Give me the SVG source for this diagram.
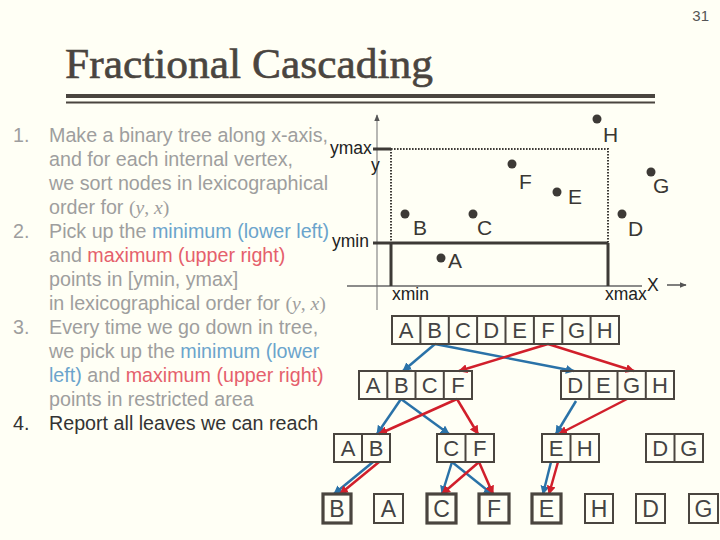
<svg xmlns="http://www.w3.org/2000/svg" width="720" height="540" viewBox="0 0 720 540">
<style>
.t{font-family:"Liberation Sans",Arial,sans-serif;font-size:19.7px;fill:#9e9e9e}
.b{fill:#6ba4cc}
.r{fill:#e5606c}
.m{font-family:"Liberation Serif","Times New Roman",serif;font-style:italic}
.p{font-family:"Liberation Serif","Times New Roman",serif;font-style:normal}
.ax{font-family:"Liberation Sans",Arial,sans-serif;font-size:17.5px;fill:#222}
.pl{font-family:"Liberation Sans",Arial,sans-serif;font-size:21px;fill:#3a3733}
.dot{fill:#3d3a36}
.box{fill:none;stroke:#4a453f;stroke-width:2}
.thick{fill:none;stroke:#4a453f;stroke-width:3.2}
.bl{font-family:"Liberation Sans",Arial,sans-serif;font-size:22px;fill:#444;text-anchor:middle}
.lf{font-size:23px}
.ab{stroke:#2a72a8;stroke-width:2.5;fill:none;marker-end:url(#mb)}
.ar{stroke:#d11f2b;stroke-width:2.5;fill:none;marker-end:url(#mr)}
</style>
<defs>
<marker id="mb" markerUnits="userSpaceOnUse" viewBox="0 0 10 10" refX="9" refY="5" markerWidth="9" markerHeight="9" orient="auto"><path d="M0,0L10,5L0,10z" fill="#2a72a8"/></marker>
<marker id="mr" markerUnits="userSpaceOnUse" viewBox="0 0 10 10" refX="9" refY="5" markerWidth="9" markerHeight="9" orient="auto"><path d="M0,0L10,5L0,10z" fill="#d11f2b"/></marker>
<marker id="mg" markerUnits="userSpaceOnUse" viewBox="0 0 10 10" refX="9" refY="5" markerWidth="7" markerHeight="7" orient="auto"><path d="M0,1L10,5L0,9z" fill="#555"/></marker>
</defs>
<rect width="720" height="540" fill="#fffff5"/>
<text x="709" y="21" font-family="Liberation Sans,Arial,sans-serif" font-size="15" fill="#555" text-anchor="end">31</text>
<text x="65" y="78" font-family="Liberation Serif,Times New Roman,serif" font-size="42" fill="#4a453f" stroke="#4a453f" stroke-width="0.6" textLength="368" lengthAdjust="spacingAndGlyphs">Fractional Cascading</text>
<rect x="66" y="94" width="589" height="4" fill="#4a453f"/>
<rect x="66" y="101.5" width="589" height="2" fill="#4a453f"/>

<g id="text-list" class="t">
<text x="13" y="142">1.</text><text x="49" y="142">Make a binary tree along x-axis,</text>
<text x="49" y="166">and for each internal vertex,</text>
<text x="49" y="190">we sort nodes in lexicographical</text>
<text x="49" y="214">order for <tspan class="p">(</tspan><tspan class="m">y</tspan><tspan class="p">, </tspan><tspan class="m">x</tspan><tspan class="p">)</tspan></text>
<text x="13" y="238">2.</text><text x="49" y="238">Pick up the <tspan class="b">minimum (lower left)</tspan></text>
<text x="49" y="262">and <tspan class="r">maximum (upper right)</tspan></text>
<text x="49" y="286">points in [ymin, ymax]</text>
<text x="49" y="310">in lexicographical order for <tspan class="p">(</tspan><tspan class="m">y</tspan><tspan class="p">, </tspan><tspan class="m">x</tspan><tspan class="p">)</tspan></text>
<text x="13" y="334">3.</text><text x="49" y="334">Every time we go down in tree,</text>
<text x="49" y="358">we pick up the <tspan class="b">minimum (lower</tspan></text>
<text x="49" y="382"><tspan class="b">left)</tspan> and <tspan class="r">maximum (upper right)</tspan></text>
<text x="49" y="406">points in restricted area</text>
<text x="13" y="430" fill="#333">4.</text><text x="49" y="430" fill="#333">Report all leaves we can reach</text>
</g>

<g id="plot">
<line x1="377" y1="310" x2="377" y2="115" stroke="#888" stroke-width="1.2" marker-end="url(#mg)"/>
<line x1="347" y1="286" x2="642" y2="286" stroke="#666" stroke-width="1.5"/>
<line x1="667" y1="285" x2="686" y2="285" stroke="#555" stroke-width="1.5" marker-end="url(#mg)"/>
<line x1="373" y1="149" x2="391" y2="149" stroke="#3d3a36" stroke-width="3"/>
<path d="M391,149H608V243M391,149V243" fill="none" stroke="#3d3a36" stroke-width="2" stroke-dasharray="1.6,1.4"/>
<path d="M373,243H608M391,243V286M608,243V286" fill="none" stroke="#3d3a36" stroke-width="3"/>
<text class="ax" x="330" y="154">ymax</text>
<text class="ax" x="371" y="171" font-size="22">y</text>
<text class="ax" x="332" y="247">ymin</text>
<text class="ax" x="392" y="300">xmin</text>
<text class="ax" x="605" y="300">xmax</text>
<text class="ax" x="647" y="291" font-size="19">X</text>
</g>

<g id="points">
<circle class="dot" cx="597" cy="119" r="4.5"/><text class="pl" x="603" y="142">H</text>
<circle class="dot" cx="512" cy="164" r="4.5"/><text class="pl" x="519" y="189">F</text>
<circle class="dot" cx="557" cy="192" r="4.5"/><text class="pl" x="568" y="204">E</text>
<circle class="dot" cx="651" cy="172" r="4.5"/><text class="pl" x="653" y="193">G</text>
<circle class="dot" cx="405" cy="214" r="4.5"/><text class="pl" x="413" y="235">B</text>
<circle class="dot" cx="473" cy="214" r="4.5"/><text class="pl" x="477" y="235">C</text>
<circle class="dot" cx="622" cy="214" r="4.5"/><text class="pl" x="628" y="236">D</text>
<circle class="dot" cx="441" cy="258" r="4.5"/><text class="pl" x="448" y="268">A</text>
</g>

<g id="connectors">
<line class="ab" x1="435" y1="344" x2="403" y2="371"/>
<line class="ab" x1="435" y1="344" x2="574" y2="371"/>
<line class="ar" x1="548" y1="344" x2="459" y2="371"/>
<line class="ar" x1="548" y1="344" x2="634" y2="371"/>
<line class="ab" x1="401" y1="399" x2="377" y2="434"/>
<line class="ab" x1="401" y1="399" x2="449" y2="434"/>
<line class="ar" x1="457" y1="399" x2="379" y2="434"/>
<line class="ar" x1="457" y1="399" x2="478" y2="434"/>
<line class="ab" x1="576" y1="401" x2="556" y2="434"/>
<line class="ar" x1="627" y1="399" x2="559" y2="434"/>
<line class="ab" x1="373" y1="462" x2="334" y2="494"/>
<line class="ar" x1="379" y1="462" x2="340" y2="494"/>
<line class="ab" x1="452" y1="462" x2="442" y2="494"/>
<line class="ab" x1="452" y1="462" x2="492" y2="494"/>
<line class="ar" x1="479" y1="462" x2="442" y2="494"/>
<line class="ar" x1="479" y1="462" x2="493" y2="494"/>
<line class="ab" x1="551" y1="462" x2="543" y2="494"/>
<line class="ar" x1="558" y1="462" x2="549" y2="494"/>
</g>

<g id="root">
<rect class="box" x="392" y="316" width="227" height="28"/>
<path class="box" d="M420.4,316V344M448.8,316V344M477.1,316V344M505.5,316V344M533.9,316V344M562.3,316V344M590.6,316V344"/>
<text class="bl" y="338"><tspan x="406.2">A</tspan><tspan x="434.6">B</tspan><tspan x="463">C</tspan><tspan x="491.3">D</tspan><tspan x="519.7">E</tspan><tspan x="548.1">F</tspan><tspan x="576.5">G</tspan><tspan x="604.8">H</tspan></text>
</g>
<g id="n-ABCF">
<rect class="box" x="359" y="371" width="113" height="28"/>
<path class="box" d="M387.3,371V399M415.5,371V399M443.8,371V399"/>
<text class="bl" y="393"><tspan x="373.1">A</tspan><tspan x="401.4">B</tspan><tspan x="429.6">C</tspan><tspan x="457.9">F</tspan></text>
</g>
<g id="n-DEGH">
<rect class="box" x="561" y="371" width="113" height="28"/>
<path class="box" d="M589.3,371V399M617.5,371V399M645.8,371V399"/>
<text class="bl" y="393"><tspan x="575.1">D</tspan><tspan x="603.4">E</tspan><tspan x="631.6">G</tspan><tspan x="659.9">H</tspan></text>
</g>
<g id="n-AB">
<rect class="box" x="334" y="434" width="56" height="28"/>
<path class="box" d="M362,434V462"/>
<text class="bl" y="456"><tspan x="348">A</tspan><tspan x="376">B</tspan></text>
</g>
<g id="n-CF">
<rect class="box" x="437" y="434" width="57" height="28"/>
<path class="box" d="M465.5,434V462"/>
<text class="bl" y="456"><tspan x="451.2">C</tspan><tspan x="479.8">F</tspan></text>
</g>
<g id="n-EH">
<rect class="box" x="542" y="434" width="57" height="28"/>
<path class="box" d="M570.5,434V462"/>
<text class="bl" y="456"><tspan x="556.2">E</tspan><tspan x="584.8">H</tspan></text>
</g>
<g id="n-DG">
<rect class="box" x="646" y="434" width="57" height="28"/>
<path class="box" d="M674.5,434V462"/>
<text class="bl" y="456"><tspan x="660.2">D</tspan><tspan x="688.8">G</tspan></text>
</g>
<g id="leaf-B"><rect class="thick" x="323" y="494" width="28" height="29"/><text class="bl lf" x="337" y="517">B</text></g>
<g id="leaf-A"><rect class="box" x="374" y="494" width="29" height="29"/><text class="bl lf" x="388.5" y="517">A</text></g>
<g id="leaf-C"><rect class="thick" x="427" y="494" width="29" height="29"/><text class="bl lf" x="441.5" y="517">C</text></g>
<g id="leaf-F"><rect class="thick" x="479" y="494" width="30" height="29"/><text class="bl lf" x="494" y="517">F</text></g>
<g id="leaf-E"><rect class="thick" x="532" y="494" width="29" height="29"/><text class="bl lf" x="546.5" y="517">E</text></g>
<g id="leaf-H"><rect class="box" x="585" y="494" width="28" height="29"/><text class="bl lf" x="599" y="517">H</text></g>
<g id="leaf-D"><rect class="box" x="636" y="494" width="29" height="29"/><text class="bl lf" x="650.5" y="517">D</text></g>
<g id="leaf-G"><rect class="box" x="689" y="494" width="29" height="29"/><text class="bl lf" x="703.5" y="517">G</text></g>
</svg>
